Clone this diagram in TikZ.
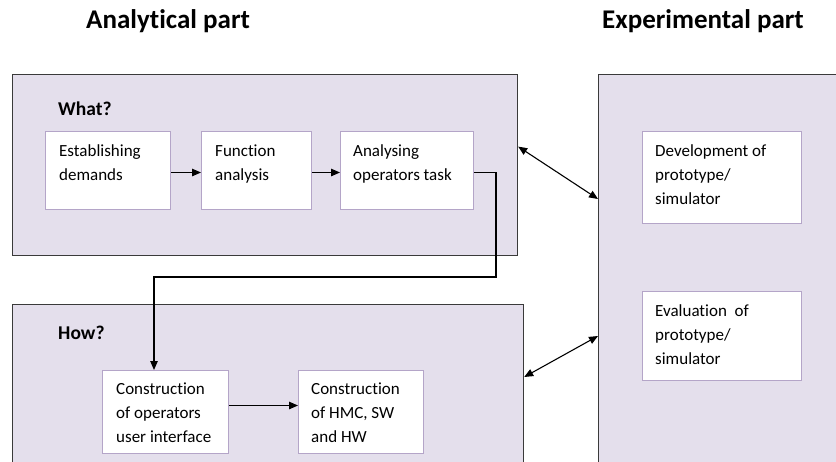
\documentclass[tikz,border=0pt]{standalone}
\usepackage{fontspec}
\setmainfont{Carlito}[Ligatures=NoCommon]
\usetikzlibrary{arrows.meta}
\definecolor{lav}{HTML}{E4DFEC}
\definecolor{innerc}{HTML}{B4A5C8}
\definecolor{outc}{HTML}{3A3A3A}
\newcommand{\boxlines}[1]{\begin{tabular}[t]{@{}l@{}}#1\end{tabular}}
\begin{document}
\begin{tikzpicture}[x=1pt,y=-1pt,
  obox/.style={draw=outc, fill=lav, line width=1.2pt, inner sep=0pt, anchor=north west},
  ibox/.style={draw=innerc, fill=white, line width=1pt, inner sep=0pt, anchor=north west},
  btxt/.style={anchor=base west, inner sep=0pt, font=\fontsize{17}{24}\selectfont},
  ttl/.style={anchor=base west, inner sep=0pt, font=\fontsize{27}{30}\selectfont\bfseries},
  qtxt/.style={anchor=base west, inner sep=0pt, font=\fontsize{19.5}{22}\selectfont\bfseries},
  arr/.style={-{Triangle[length=9pt,width=7.5pt]}, line width=1.1pt},
  darr/.style={{Triangle[length=9pt,width=7.5pt]}-{Triangle[length=9pt,width=7.5pt]}, line width=1.1pt}]
\useasboundingbox (0,0) rectangle (836,461);
\clip (0,0) rectangle (836,461);
% titles
\node[ttl] (t1) at (86,28) {Analytical part};
\node[ttl] (t2) at (602,28) {Experimental part};
% outer boxes
\node[obox, minimum width=505pt, minimum height=181pt] (what) at (12,74) {};
\node[obox, minimum width=511pt, minimum height=200pt] (how) at (12,304) {};
\node[obox, minimum width=300pt, minimum height=450pt] (exp) at (598,74) {};
\node[qtxt] (whatq) at (58,115) {What?};
\node[qtxt] (howq) at (58,339) {How?};
% inner boxes
\node[ibox, minimum width=125pt, minimum height=78pt] (est) at (45,131) {};
\node[ibox, minimum width=110pt, minimum height=78pt] (fun) at (201,131) {};
\node[ibox, minimum width=133pt, minimum height=78pt] (ana) at (340,131) {};
\node[ibox, minimum width=126pt, minimum height=83pt] (cons) at (102,370) {};
\node[ibox, minimum width=125pt, minimum height=83pt] (hmc) at (298,370) {};
\node[ibox, minimum width=159pt, minimum height=92pt] (dev) at (642,131) {};
\node[ibox, minimum width=159pt, minimum height=89pt] (eval) at (642,291) {};
% texts
\node[btxt] (est-t) at (59,156) {\boxlines{Establishing\\demands}};
\node[btxt] (fun-t) at (215,156) {\boxlines{Function\\analysis}};
\node[btxt] (ana-t) at (353,156) {\boxlines{Analysing\\operators task}};
\node[btxt] (cons-t) at (116,394) {\boxlines{Construction\\of operators\\user interface}};
\node[btxt] (hmc-t) at (311,394) {\boxlines{Construction\\of HMC, SW\\and HW}};
\node[btxt] (dev-t) at (655,156) {\boxlines{Development of\\prototype/\\simulator}};
\node[btxt] (eval-t) at (655,316) {\boxlines{Evaluation\ \ of\\prototype/\\simulator}};
% connectors
\draw[arr] ([yshift=-2pt]est.east) -- ([yshift=-2pt]fun.west);
\draw[arr] ([yshift=-2pt]fun.east) -- ([yshift=-2pt]ana.west);
\coordinate (bend) at (496,277);
\draw[arr] ([yshift=-2pt]ana.east) -| (bend) -| ([xshift=52pt]cons.north west);
\draw[arr] ([yshift=6.5pt]cons.east) -- ([yshift=6.5pt]cons.east -| hmc.west);
\draw[darr] ([yshift=18.5pt]what.east) -- ([yshift=-125pt]exp.north west);
\draw[darr] ([yshift=-73pt]how.north east) -- ([yshift=-262pt]exp.north west);
\end{tikzpicture}
\end{document}
